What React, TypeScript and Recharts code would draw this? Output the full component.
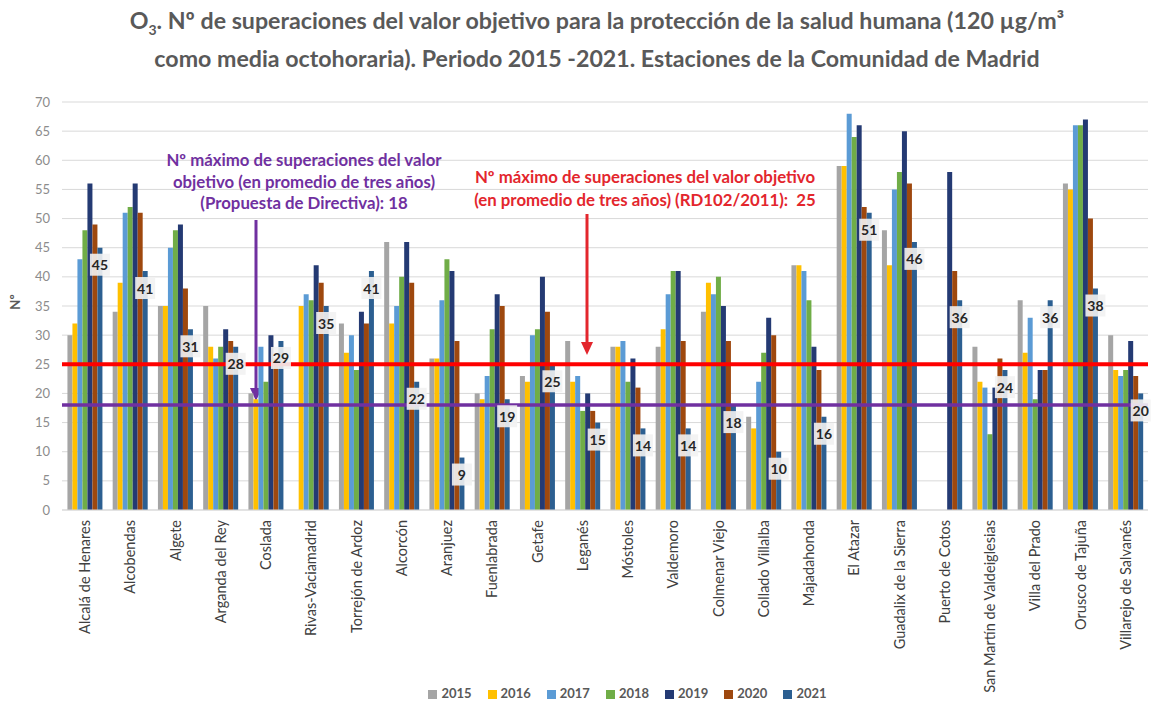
import React from 'react';
import {
  BarChart,
  Bar,
  XAxis,
  YAxis,
  CartesianGrid,
  ReferenceLine,
  Legend,
  LabelList,
  Customized,
} from 'recharts';

const stations = [
  'Alcalá de Henares',
  'Alcobendas',
  'Algete',
  'Arganda del Rey',
  'Coslada',
  'Rivas-Vaciamadrid',
  'Torrejón de Ardoz',
  'Alcorcón',
  'Aranjuez',
  'Fuenlabrada',
  'Getafe',
  'Leganés',
  'Móstoles',
  'Valdemoro',
  'Colmenar Viejo',
  'Collado Villalba',
  'Majadahonda',
  'El Atazar',
  'Guadalix de la Sierra',
  'Puerto de Cotos',
  'San Martín de Valdeiglesias',
  'Villa del Prado',
  'Orusco de Tajuña',
  'Villarejo de Salvanés',
];

const v2015 = [30, 34, 35, 35, 20, null, 32, 46, 26, 20, 23, 29, 28, 28, 34, 16, 42, 59, 48, null, 28, 36, 56, 30];
const v2016 = [32, 39, 35, 28, 19, 35, 27, 32, 26, 19, 22, 22, 28, 31, 39, 14, 42, 59, 42, null, 22, 27, 55, 24];
const v2017 = [43, 51, 45, 26, 28, 37, 30, 35, 36, 23, 30, 23, 29, 37, 37, 22, 41, 68, 55, null, 21, 33, 66, 23];
const v2018 = [48, 52, 48, 28, 22, 36, 24, 40, 43, 31, 31, 17, 22, 41, 40, 27, 36, 64, 58, null, 13, 19, 66, 24];
const v2019 = [56, 56, 49, 31, 30, 42, 34, 46, 41, 37, 40, 20, 26, 41, 35, 33, 28, 66, 65, 58, 21, 24, 67, 29];
const v2020 = [49, 51, 38, 29, 26, 39, 32, 39, 29, 35, 34, 17, 21, 29, 29, 30, 24, 52, 56, 41, 26, 24, 50, 23];
const v2021 = [45, 41, 31, 28, 29, 35, 41, 22, 9, 19, 25, 15, 14, 14, 18, 10, 16, 51, 46, 36, 24, 36, 38, 20];

const years = ['2015', '2016', '2017', '2018', '2019', '2020', '2021'];
const yearColors = ['#A5A5A5', '#FFC000', '#5B9BD5', '#70AD47', '#243A73', '#9E480E', '#2C5F91'];
const yTicks = [0, 5, 10, 15, 20, 25, 30, 35, 40, 45, 50, 55, 60, 65, 70];

const limitRD = 25;
const limitDirectiva = 18;

const titleLine1 = 'Nº de superaciones del valor objetivo para la protección de la salud humana (120 µg/m³';
const titleLine2 = 'como media octohoraria). Periodo 2015 -2021. Estaciones de la Comunidad de Madrid';
const purpleText = [
  'Nº máximo de superaciones del valor',
  'objetivo (en promedio de tres años)',
  '(Propuesta de Directiva): 18',
];
const redText = [
  'Nº máximo de superaciones del valor objetivo',
  '(en promedio de tres años) (RD102/2011):  25',
];

const series = [v2015, v2016, v2017, v2018, v2019, v2020, v2021];
const data = stations.map((s, i) => {
  const row: any = { station: s };
  years.forEach((y, k) => {
    row['y' + y] = series[k][i];
  });
  return row;
});

const FONT = 'Lato, "Open Sans", sans-serif';

const XTick = (props: any) => {
  const { x, y, payload } = props;
  return (
    <text
      x={x}
      y={y}
      transform={`rotate(-90 ${x} ${y})`}
      textAnchor="end"
      dominantBaseline="central"
      fontSize={14.5}
      fill="#404040"
      fontFamily={FONT}
    >
      {payload.value}
    </text>
  );
};

const LabelBox = (props: any) => {
  const { x, y, width, value } = props;
  if (value == null) return null;
  const cx = Number(x) + Number(width) / 2;
  const cy = Number(y) + 17;
  return (
    <g>
      <rect x={cx - 10} y={cy - 11} width={20} height={22} fill="#F2F2F2" fillOpacity={0.9} />
      <text
        x={cx}
        y={cy}
        textAnchor="middle"
        dominantBaseline="central"
        fontSize={14}
        fontWeight={700}
        fill="#262626"
        fontFamily={FONT}
      >
        {value}
      </text>
    </g>
  );
};

const Annotations = () => (
  <g fontFamily={FONT}>
    <text
      x={15}
      y={302}
      transform="rotate(-90 15 302)"
      textAnchor="middle"
      dominantBaseline="central"
      fontSize={13}
      fontWeight={700}
      fill="#595959"
    >
      Nº
    </text>
    {purpleText.map((t, i) => (
      <text key={'p' + i} x={304} y={166 + i * 21.5} textAnchor="middle" fontSize={16.8} fontWeight={700} fill="#7030A0">
        {t}
      </text>
    ))}
    {redText.map((t, i) => (
      <text
        key={'r' + i}
        x={645}
        y={183 + i * 23}
        textAnchor="middle"
        fontSize={16.8}
        fontWeight={700}
        fill="#E3262D"
        style={{ whiteSpace: 'pre' }}
      >
        {t}
      </text>
    ))}
    <line x1={256} y1={220} x2={256} y2={390} stroke="#7030A0" strokeWidth={3} />
    <polygon points="250,388 262,388 256,401" fill="#7030A0" />
    <line x1={587} y1={214} x2={587} y2={344} stroke="#E3262D" strokeWidth={3} />
    <polygon points="581,342 593,342 587,355" fill="#E3262D" />
  </g>
);

const legendFormatter = (value: string) => (
  <span style={{ color: '#595959', fontWeight: 700, fontSize: 13, fontFamily: FONT, paddingRight: 6 }}>{value}</span>
);

export default function App() {
  return (
    <div style={{ position: 'absolute', left: 0, top: 0, width: 1159, height: 713, background: '#fff' }}>
      <div
        style={{
          position: 'absolute',
          left: 40,
          top: 6,
          width: 1114,
          textAlign: 'center',
          fontFamily: FONT,
          fontWeight: 700,
          fontSize: 23.2,
          lineHeight: '28px',
          color: '#595959',
        }}
      >
        <div>
          O<sub style={{ fontSize: 14 }}>3</sub>. {titleLine1}
        </div>
        <div>{titleLine2}</div>
      </div>
      <div style={{ position: 'absolute', left: 0, top: 0 }}>
        <BarChart
          width={1159}
          height={713}
          data={data}
          margin={{ top: 102, right: 11, bottom: 53, left: 22 }}
          barCategoryGap="12%"
          barGap={0}
        >
          <CartesianGrid vertical={false} stroke="#D9D9D9" />
          <XAxis
            dataKey="station"
            interval={0}
            tick={<XTick />}
            tickLine={false}
            tickMargin={4}
            height={150}
            axisLine={{ stroke: '#D9D9D9' }}
          />
          <YAxis
            domain={[0, 70]}
            ticks={yTicks}
            width={40}
            axisLine={false}
            tickLine={false}
            tickMargin={6}
            tick={{ fontSize: 13, fill: '#8C8C8C', fontFamily: FONT }}
          />
          {years.map((y, k) => (
            <Bar key={y} dataKey={'y' + y} name={y} fill={yearColors[k]} isAnimationActive={false}>
              {y === '2021' ? <LabelList dataKey={'y' + y} content={<LabelBox />} /> : null}
            </Bar>
          ))}
          <ReferenceLine y={limitRD} stroke="#FF0000" strokeWidth={4} />
          <ReferenceLine y={limitDirectiva} stroke="#7030A0" strokeWidth={3.5} />
          <Legend
            verticalAlign="middle"
            layout="horizontal"
            align="center"
            iconType="square"
            iconSize={9}
            formatter={legendFormatter}
            wrapperStyle={{ top: 684, left: 56, width: 1159 }}
          />
          <Customized component={Annotations} />
        </BarChart>
      </div>
    </div>
  );
}
